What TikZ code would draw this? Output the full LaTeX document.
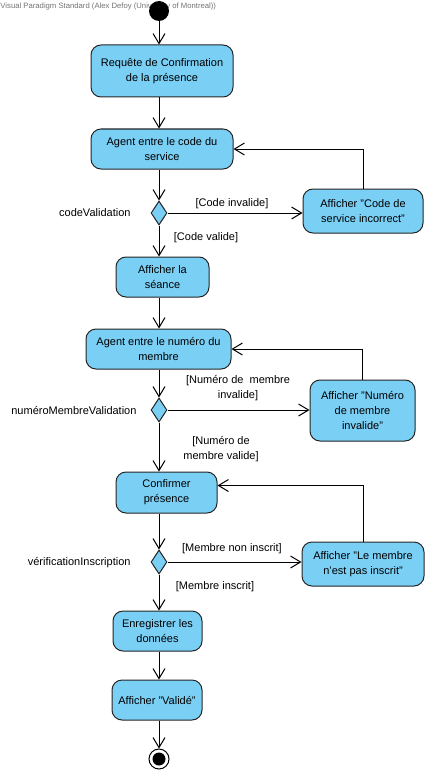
\documentclass[tikz,border=0pt]{standalone}
\usepackage{fontspec}
\setmainfont{Liberation Sans}
\usetikzlibrary{shapes.geometric,arrows.meta}
\definecolor{vpblue}{RGB}{122,207,245}
\begin{document}
\begin{tikzpicture}[x=1pt, y=-1pt, line width=1pt, >={Straight Barb[length=10pt,width=12pt]}]
\useasboundingbox (0,0) rectangle (428,773);
\tikzstyle{every node}=[font=\fontsize{11}{15}\selectfont, inner sep=0pt]
\tikzstyle{action}=[shape=rectangle, rounded corners=10pt, draw=black!85, fill=vpblue, align=center]
\tikzstyle{decision}=[shape=diamond, draw=black!85, fill=vpblue, minimum width=16pt, minimum height=24pt]
\tikzstyle{guard}=[align=center]
\node[anchor=west, text=black!55, font=\fontsize{7.7}{8}\selectfont] (VP) at (0,7) {Visual Paradigm Standard (Alex Defoy (University of Montreal))};
\node[circle, fill=black, minimum size=20pt] (start) at (159,11) {};
\node[action, minimum width=142pt, minimum height=52pt] (REQ) at (162,71) {Requête de Confirmation\\de la présence};
\node[action, minimum width=142pt, minimum height=40pt] (CODE) at (162,149) {Agent entre le code du\\service};
\node[decision] (D1) at (159,213) {};
\node[anchor=east] (L1) at (131,213) {codeValidation};
\node[action, minimum width=120pt, minimum height=44pt] (ERRC) at (363,211) {Afficher "Code de\\service incorrect"};
\node[action, minimum width=93pt, minimum height=40pt] (SEANCE) at (162.5,277) {Afficher la\\séance};
\node[action, minimum width=145pt, minimum height=40pt] (NUM) at (158.5,349) {Agent entre le numéro du\\membre};
\node[decision] (D2) at (159,410) {};
\node[anchor=east] (L2) at (137,410) {numéroMembreValidation};
\node[action, minimum width=105pt, minimum height=61pt] (ERRN) at (362.5,410.5) {Afficher "Numéro\\de membre\\invalide"};
\node[action, minimum width=101pt, minimum height=41pt] (CONF) at (166.5,492.5) {Confirmer\\présence};
\node[decision] (D3) at (159,562) {};
\node[anchor=east] (L3) at (131,563) {vérificationInscription};
\node[action, minimum width=122pt, minimum height=44pt] (ERRI) at (363,564) {Afficher "Le membre\\n'est pas inscrit"};
\node[action, minimum width=89pt, minimum height=40pt] (SAVE) at (157.5,631) {Enregistrer les\\données};
\node[action, minimum width=90pt, minimum height=40pt] (OK) at (157,700) {Afficher "Validé"};
\node[circle, draw=black, fill=white, minimum size=20pt] (end) at (159,759) {};
\node[circle, fill=black, minimum size=13pt] (endin) at (159,759) {};
%% guards
\node[guard] (G1) at (232,204) {[Code invalide]};
\node[guard] (G2) at (206,238) {[Code valide]};
\node[guard] (G3) at (238,388.5) {[Numéro de~~membre\\invalide]};
\node[guard] (G4) at (221,449.5) {[Numéro de\\membre valide]};
\node[guard] (G5) at (232,549) {[Membre non inscrit]};
\node[guard] (G6) at (215,587) {[Membre inscrit]};
%% flows
\draw [->] (start) to (start |- REQ.north);
\draw [->] (REQ.south -| start) to (CODE.north -| start);
\draw [->] (CODE.south -| start) to (D1.north);
\draw [->] (D1.east) to (D1.east -| ERRC.west);
\draw [->] (ERRC.north) |- (CODE.east);
\draw [->] (D1.south) to (SEANCE.north -| start);
\draw [->] (SEANCE.south -| start) to (NUM.north -| start);
\draw [->] (NUM.south -| start) to (D2.north);
\draw [->] (D2.east) to (D2.east -| ERRN.west);
\draw [->] (ERRN.north) |- (NUM.east);
\draw [->] (D2.south) to (CONF.north -| start);
\draw [->] (CONF.south -| start) to (D3.north);
\draw [->] (D3.east) to (D3.east -| ERRI.west);
\draw [->] (ERRI.north) |- ([yshift=7pt]CONF.east);
\draw [->] (D3.south) to (SAVE.north -| start);
\draw [->] (SAVE.south -| start) to (OK.north -| start);
\draw [->] (OK.south -| start) to (end.north);
\end{tikzpicture}
\end{document}
